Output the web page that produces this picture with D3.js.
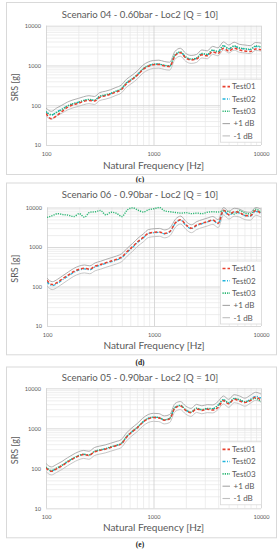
<!DOCTYPE html>
<html>
<head>
<meta charset="utf-8">
<script src="https://cdn.jsdelivr.net/npm/d3@7"></script>
<style>
  body { margin: 0; background: #fff; }
  svg { display: block; }
  .tick text { fill: #595959; }
</style>
</head>
<body>
<svg width="279" height="550"></svg>
<script>
/*
  three SRS panels, log-log
  - freq grid shared by all series
  - per panel: Test01, Test02, Test03, +/-1 dB around Test02
*/

var freq = [100, 112, 126, 141, 158, 178, 200, 224, 251, 282, 316, 355, 398, 447, 501, 562, 631, 708, 794, 891,
            1000, 1122, 1259, 1413, 1585, 1778, 1995, 2239, 2512, 2818, 3162, 3548, 3981, 4467, 5012, 5623, 6310, 7079, 7943, 8913, 10000];

var xTicks = [100, 1000, 10000];
var yTicks = [10, 100, 1000, 10000];
var seriesNames = ["Test01", "Test02", "Test03", "+1 dB", "-1 dB"];
var envDb = 1;

// Scenario 04 - 0.60bar
var s04_test01 = [62, 46, 55, 70, 88, 102, 112, 125, 132, 128, 158, 172, 190, 215, 245, 350, 440, 570, 780, 950,
                  1040, 1060, 980, 940, 1750, 2100, 1550, 1380, 1450, 1850, 1750, 2200, 2000, 2700, 2300, 2700, 2450, 2300, 2250, 2600, 2500];
var s04_test02 = [68, 56, 68, 80, 95, 108, 118, 130, 138, 132, 165, 178, 195, 222, 255, 360, 450, 580, 800, 970,
                  1060, 1080, 1000, 960, 1800, 2150, 1600, 1420, 1500, 1950, 1850, 2400, 2200, 3100, 2600, 3050, 2700, 2600, 2500, 3000, 2900];
var s04_test03 = [70, 58, 66, 78, 96, 110, 120, 132, 140, 134, 168, 182, 198, 226, 260, 370, 460, 590, 810, 990,
                  1080, 1090, 1010, 980, 1850, 2200, 1640, 1450, 1540, 2000, 1900, 2450, 2250, 3150, 2650, 3100, 2750, 2650, 2550, 3100, 2950];

// Scenario 06 - 0.90bar
var s06_test01 = [145, 112, 130, 160, 195, 240, 275, 290, 275, 330, 360, 400, 440, 490, 560, 770, 1020, 1380, 1750, 2250,
                  2350, 2400, 2200, 2500, 4100, 4900, 3600, 3000, 3600, 4000, 4400, 4800, 4000, 8500, 6600, 7800, 7400, 6300, 6200, 8400, 7000];
var s06_test02 = [130, 105, 122, 150, 185, 228, 262, 278, 265, 315, 345, 385, 425, 470, 540, 740, 980, 1330, 1700, 2200,
                  2300, 2350, 2150, 2450, 4000, 4800, 3500, 2900, 3500, 3900, 4300, 4700, 3900, 8200, 6400, 7600, 7200, 6200, 6000, 8000, 7200];
var s06_test03 = [5600, 6200, 7000, 6600, 6400, 5900, 7000, 5700, 7600, 7800, 8400, 6500, 7600, 7100, 5900, 8600, 9800, 8600, 7700, 8800,
                  9300, 10000, 8200, 7800, 7500, 7200, 7400, 7000, 7200, 7000, 7600, 7800, 7700, 8200, 7800, 6800, 8400, 7200, 6900, 9000, 7600];

// Scenario 05 - 0.90bar
var s05_test01 = [102, 84, 98, 116, 142, 172, 202, 220, 210, 258, 280, 300, 330, 365, 405, 600, 810, 1030, 1400, 1720,
                  1850, 1820, 1600, 1720, 3200, 3600, 2800, 2450, 3050, 2800, 3000, 2850, 3300, 4900, 4100, 5300, 4800, 4400, 4900, 6000, 5000];
var s05_test02 = [105, 86, 100, 118, 145, 175, 205, 222, 212, 262, 285, 305, 335, 370, 415, 610, 820, 1050, 1420, 1750,
                  1880, 1850, 1620, 1750, 3300, 3700, 2850, 2500, 3150, 2900, 3100, 3050, 3700, 5100, 4200, 5500, 5100, 4500, 5300, 6300, 5700];
var s05_test03 = [108, 88, 102, 120, 148, 178, 208, 225, 215, 265, 288, 308, 340, 375, 420, 620, 830, 1060, 1440, 1780,
                  1900, 1870, 1640, 1780, 3350, 3750, 2900, 2550, 3200, 2950, 3150, 3100, 3800, 5200, 4300, 5600, 5200, 4600, 5100, 5600, 4600];

var panels = [
  {title: "Scenario 04 - 0.60bar - Loc2 [Q = 10]", caption: "(c)", tests: [s04_test01, s04_test02, s04_test03],
   box: [6, 2, 276, 174], plot: [46, 25.7, 261, 145], titleY: 17.5, labelY: 168.5, captionY: 181.5},
  {title: "Scenario 06 - 0.90bar - Loc2 [Q = 10]", caption: "(d)", tests: [s06_test01, s06_test02, s06_test03],
   box: [6, 182.5, 276, 354.3], plot: [47, 207.5, 261, 326], titleY: 198, labelY: 349, captionY: 365},
  {title: "Scenario 05 - 0.90bar - Loc2 [Q = 10]", caption: "(e)", tests: [s05_test01, s05_test02, s05_test03],
   box: [6, 366.5, 276, 537.3], plot: [46, 388.3, 261, 508.3], titleY: 381, labelY: 530.5, captionY: 546.5}
];

var styles = [
  {color: "#e8402f", width: 1.5, dash: "3,2"},
  {color: "#22b4dc", width: 1.3, dash: "3,1.5,1,1.5"},
  {color: "#2bb673", width: 1.4, dash: "1.2,1.1"},
  {color: "#a6a6a6", width: 0.9, dash: null},
  {color: "#bfbfbf", width: 0.9, dash: null}
];

var font = "Lato, 'Open Sans', sans-serif";
var svg = d3.select("svg");

panels.forEach(function(p) {
  var g = svg.append("g");
  var left = p.plot[0], top = p.plot[1], right = p.plot[2], bottom = p.plot[3];

  g.append("rect")
    .attr("x", p.box[0] + 0.5).attr("y", p.box[1] + 0.5)
    .attr("width", p.box[2] - p.box[0]).attr("height", p.box[3] - p.box[1])
    .attr("fill", "#fff").attr("stroke", "#d9d9d9").attr("stroke-width", 1);

  var xScale = d3.scaleLog().domain([100, 10000]).range([left, right]);
  var yScale = d3.scaleLog().domain([10, 10000]).range([bottom, top]);

  var minorX = xScale.ticks().filter(function(t) { return xTicks.indexOf(t) < 0; });
  var minorY = yScale.ticks().filter(function(t) { return yTicks.indexOf(t) < 0; });

  // minor grid
  g.append("g")
    .attr("transform", "translate(0," + bottom + ")")
    .call(d3.axisBottom(xScale).tickValues(minorX).tickSize(-(bottom - top)).tickFormat(""))
    .call(function(a) { a.select(".domain").remove(); a.selectAll("line").attr("stroke", "#e6e6e6").attr("stroke-width", 0.7); });
  g.append("g")
    .attr("transform", "translate(" + left + ",0)")
    .call(d3.axisLeft(yScale).tickValues(minorY).tickSize(-(right - left)).tickFormat(""))
    .call(function(a) { a.select(".domain").remove(); a.selectAll("line").attr("stroke", "#e6e6e6").attr("stroke-width", 0.7); });

  // major grid + labels
  g.append("g")
    .attr("transform", "translate(0," + bottom + ")")
    .call(d3.axisBottom(xScale).tickValues(xTicks).tickSize(-(bottom - top)).tickPadding(6).tickFormat(d3.format("d")))
    .call(function(a) {
      a.select(".domain").remove();
      a.selectAll("line").attr("stroke", "#cfcfcf").attr("stroke-width", 0.8);
      a.selectAll("text").style("font", "5.6px " + font).attr("dy", "0.9em");
    });
  g.append("g")
    .attr("transform", "translate(" + left + ",0)")
    .call(d3.axisLeft(yScale).tickValues(yTicks).tickSize(-(right - left)).tickPadding(5).tickFormat(d3.format("d")))
    .call(function(a) {
      a.select(".domain").remove();
      a.selectAll("line").attr("stroke", "#cfcfcf").attr("stroke-width", 0.8);
      a.selectAll("text").style("font", "5.6px " + font);
    });

  var line = d3.line()
    .x(function(d) { return xScale(d[0]); })
    .y(function(d) { return yScale(d[1]); })
    .curve(d3.curveMonotoneX);

  // envelopes around Test02
  var k = Math.pow(10, envDb / 10);
  var ref = p.tests[1];
  var allSeries = [p.tests[0], p.tests[1], p.tests[2],
                   ref.map(function(v) { return v * k; }),
                   ref.map(function(v) { return v / k; })];

  var clipId = "clip" + Math.round(top);
  g.append("clipPath").attr("id", clipId)
    .append("rect").attr("x", left).attr("y", top - 1).attr("width", right - left).attr("height", bottom - top + 1);

  var order = [3, 4, 1, 2, 0];
  order.forEach(function(si) {
    var s = styles[si];
    g.append("path")
      .attr("clip-path", "url(#" + clipId + ")")
      .attr("d", line(freq.map(function(f, i) { return [f, Math.min(allSeries[si][i], 10000)]; })))
      .attr("fill", "none")
      .attr("stroke", s.color)
      .attr("stroke-width", s.width)
      .attr("stroke-dasharray", s.dash);
  });

  // legend
  var lg = g.append("g").attr("transform", "translate(220," + (top + 53) + ")");
  lg.append("rect").attr("x", 0.5).attr("y", 0.5).attr("width", 41).attr("height", 63)
    .attr("fill", "#fff").attr("stroke", "#d9d9d9").attr("stroke-width", 0.8);
  seriesNames.forEach(function(name, i) {
    var yy = 8 + i * 12.3;
    var s = styles[i];
    lg.append("line").attr("x1", 2.5).attr("x2", 10).attr("y1", yy).attr("y2", yy)
      .attr("stroke", s.color).attr("stroke-width", s.width + 0.2).attr("stroke-dasharray", s.dash);
    lg.append("text").attr("x", i < 3 ? 12 : 13.5).attr("y", yy).attr("dy", "0.35em")
      .style("font", "8px " + font).attr("fill", "#595959").text(name);
  });

  // titles
  g.append("text").attr("x", 140).attr("y", p.titleY).attr("text-anchor", "middle")
    .style("font", "9.6px " + font).attr("fill", "#595959").text(p.title);
  g.append("text").attr("x", (left + right) / 2).attr("y", p.labelY).attr("text-anchor", "middle")
    .style("font", "10px " + font).attr("fill", "#595959").text("Natural Frequency [Hz]");
  g.append("text")
    .attr("transform", "translate(18," + ((top + bottom) / 2 + 2) + ") rotate(-90)")
    .attr("text-anchor", "middle")
    .style("font", "9px " + font).attr("fill", "#595959").text("SRS [g]");
  g.append("text").attr("x", 140).attr("y", p.captionY).attr("text-anchor", "middle")
    .style("font", "bold 7.5px 'Liberation Serif', serif").attr("fill", "#222").text(p.caption);
});
</script>
</body>
</html>
